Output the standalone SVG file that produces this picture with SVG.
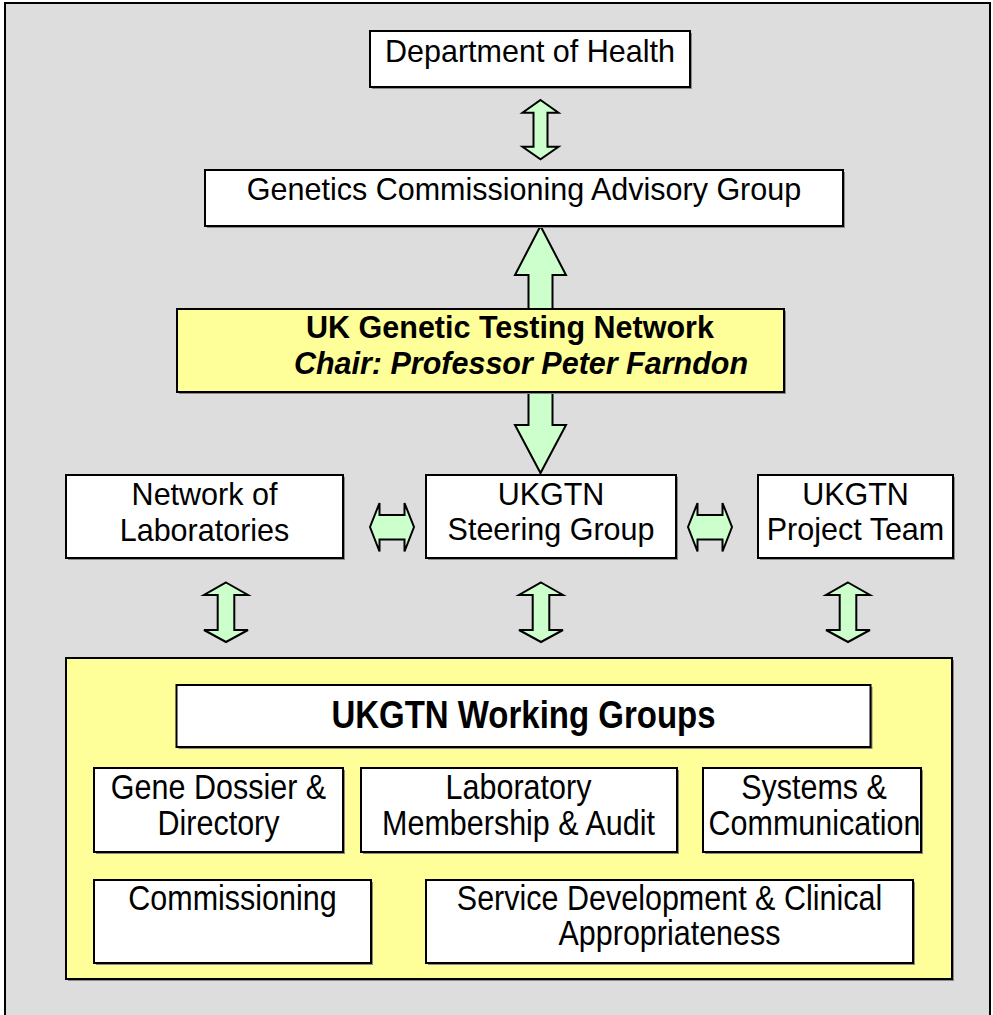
<svg xmlns="http://www.w3.org/2000/svg" xmlns:xlink="http://www.w3.org/1999/xlink" width="993" height="1015" viewBox="0 0 993 1015">
<style>
.box{fill:#fff;stroke:#000;stroke-width:2}
.ybox{fill:#ffff99;stroke:#000;stroke-width:2}
.sh{fill:#8a8a8a}
.arr{fill:#ccffcc;stroke:#000;stroke-width:2;stroke-linejoin:miter}
.t{font-family:"Liberation Sans",Arial,sans-serif;font-size:30.5px;fill:#000;text-anchor:middle}
.b{font-weight:bold}
.i{font-style:italic}
.n{font-family:"Liberation Sans",Arial,sans-serif;font-size:30.5px;fill:#000;text-anchor:middle}
</style>
<defs>
<path id="vA" d="M0,0 L22,12.5 L8.3,12.5 L8.3,47.5 L22,47.5 L0,59.5 L-22,47.5 L-8.3,47.5 L-8.3,12.5 L-22,12.5 Z"/>
<path id="hA" d="M0,0 L9.5,-24 L9.5,-12 L34.5,-12 L34.5,-24 L44,0 L34.5,24.5 L34.5,12.5 L9.5,12.5 L9.5,24.5 Z"/>
</defs>
<rect x="5" y="3" width="985" height="1020" fill="#dddddd" stroke="#000" stroke-width="2"/>
<g id="connectors">
<path class="arr" d="M540.5,100 L558.5,112.7 L547.5,112.7 L547.5,146.7 L558.5,146.7 L540.5,159.3 L522.5,146.7 L533.5,146.7 L533.5,112.7 L522.5,112.7 Z"/>
<path class="arr" d="M540.5,226 L566,275 L552.5,275 L552.5,425 L566,425 L540.5,473 L515,425 L528.5,425 L528.5,275 L515,275 Z"/>
<use href="#hA" xlink:href="#hA" class="arr" x="370" y="527"/>
<use href="#hA" xlink:href="#hA" class="arr" x="688" y="527"/>
<use href="#vA" xlink:href="#vA" class="arr" x="226" y="582.5"/>
<use href="#vA" xlink:href="#vA" class="arr" x="541" y="582.5"/>
<use href="#vA" xlink:href="#vA" class="arr" x="848" y="582.5"/>
</g>
<g id="dept">
<rect class="sh" x="372" y="33" width="320" height="56"/>
<rect class="box" x="370" y="31" width="320" height="56"/>
<text class="t" x="530" y="62">Department of Health</text>
</g>
<g id="gcag">
<rect class="sh" x="207" y="172" width="638" height="56"/>
<rect class="box" x="205" y="170" width="638" height="56"/>
<text class="t" x="524" y="200">Genetics Commissioning Advisory Group</text>
</g>
<g id="ukgtn">
<rect class="sh" x="179" y="311" width="607" height="83"/>
<rect class="ybox" x="177" y="309" width="607" height="83"/>
<text class="t b" x="510" y="338">UK Genetic Testing Network</text>
<text class="t b i" x="521" y="374">Chair: Professor Peter Farndon</text>
</g>
<g id="labs">
<rect class="sh" x="68" y="477" width="277" height="83"/>
<rect class="box" x="66" y="475" width="277" height="83"/>
<text class="t" x="204.5" y="505">Network of</text>
<text class="t" x="204.5" y="541">Laboratories</text>
</g>
<g id="steering">
<rect class="sh" x="428" y="477" width="250" height="83"/>
<rect class="box" x="426" y="475" width="250" height="83"/>
<text class="t" x="551" y="505">UKGTN</text>
<text class="t" x="551" y="540">Steering Group</text>
</g>
<g id="project">
<rect class="sh" x="760" y="477" width="195" height="83"/>
<rect class="box" x="758" y="475" width="195" height="83"/>
<text class="t" x="855.5" y="505">UKGTN</text>
<text class="t" x="855.5" y="540">Project Team</text>
</g>
<g id="working-groups">
<rect class="sh" x="68" y="660" width="886" height="321"/>
<rect class="ybox" x="66" y="658" width="886" height="321"/>
<g id="wg-title">
<rect class="sh" x="178.5" y="687" width="694" height="62"/>
<rect class="box" x="176.5" y="685" width="694" height="62"/>
<text class="n b" transform="translate(523.5,728) scale(1,1.18)" style="font-size:33px">UKGTN Working Groups</text>
</g>
<g id="wg-gene">
<rect class="sh" x="96" y="770" width="249" height="84"/>
<rect class="box" x="94" y="768" width="249" height="84"/>
<text class="n" transform="translate(218.5,799) scale(1,1.12)">Gene Dossier &amp;</text>
<text class="n" transform="translate(218.5,835) scale(1,1.12)">Directory</text>
</g>
<g id="wg-lab">
<rect class="sh" x="363" y="770" width="316" height="84"/>
<rect class="box" x="361" y="768" width="316" height="84"/>
<text class="n" transform="translate(518.5,799) scale(1,1.12)">Laboratory</text>
<text class="n" transform="translate(518.5,835) scale(1,1.12)">Membership &amp; Audit</text>
</g>
<g id="wg-systems">
<rect class="sh" x="705" y="770" width="218" height="84"/>
<rect class="box" x="703" y="768" width="218" height="84"/>
<text class="n" transform="translate(814,799) scale(1,1.12)">Systems &amp;</text>
<text class="n" transform="translate(814.5,835) scale(1,1.12)">Communication</text>
</g>
<g id="wg-comm">
<rect class="sh" x="96" y="882" width="277" height="83"/>
<rect class="box" x="94" y="880" width="277" height="83"/>
<text class="n" transform="translate(232.5,910) scale(1,1.12)">Commissioning</text>
</g>
<g id="wg-service">
<rect class="sh" x="428" y="882" width="487" height="83"/>
<rect class="box" x="426" y="880" width="487" height="83"/>
<text class="n" transform="translate(669.5,910) scale(1,1.12)">Service Development &amp; Clinical</text>
<text class="n" transform="translate(669.5,945) scale(1,1.12)">Appropriateness</text>
</g>
</g>
</svg>
